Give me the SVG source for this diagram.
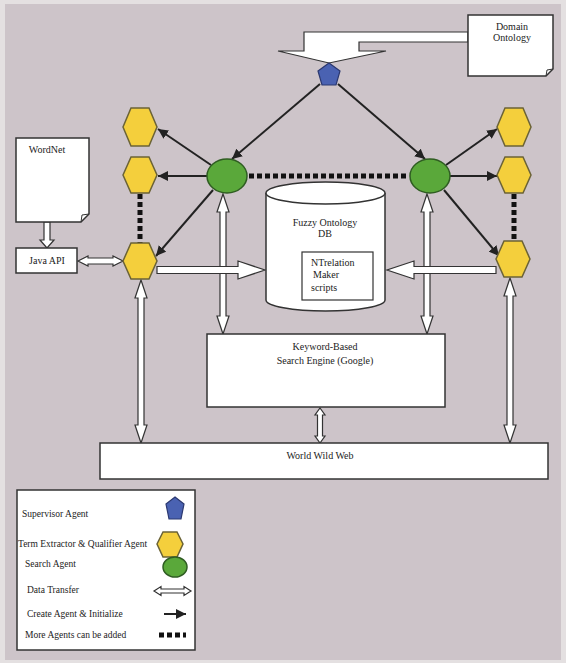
<svg xmlns="http://www.w3.org/2000/svg" width="566" height="663" viewBox="0 0 566 663">
<defs>
<style>
text{font-family:"Liberation Serif","Times New Roman",serif;font-size:10px;fill:#222}
.leg{font-size:9.5px}
.box{fill:#fff;stroke:#333;stroke-width:1.5}
.hex{fill:#f4cf3c;stroke:#6b6336;stroke-width:1.5}
.srch{fill:#5aa83a;stroke:#2f5d22;stroke-width:1.5}
.sup{fill:#4a62b2;stroke:#2b3870;stroke-width:1.2}
.dt{fill:#fff;stroke:#333;stroke-width:1.2;stroke-linejoin:miter}
.cr{stroke:#222;stroke-width:2;fill:none;marker-end:url(#ah)}
.dot{stroke:#111;stroke-width:5;stroke-dasharray:5 3;fill:none}
</style>
<marker id="ah" viewBox="0 0 10 10" refX="10" refY="5" markerWidth="5" markerHeight="5" orient="auto"><path d="M0,0 L10,5 L0,10 z" fill="#222"/></marker>
</defs>
<rect x="0" y="0" width="566" height="663" fill="#e4e0e1"/>
<rect x="5" y="4" width="556" height="656" fill="#cdc4c9"/>

<g id="connectors">
<!-- create arrows -->
<line class="cr" x1="320" y1="84" x2="232" y2="159"/>
<line class="cr" x1="338" y1="84" x2="425" y2="159"/>
<line class="cr" x1="211" y1="165" x2="158" y2="129"/>
<line class="cr" x1="207" y1="176" x2="158" y2="176"/>
<line class="cr" x1="213" y1="190" x2="156" y2="256"/>
<line class="cr" x1="446" y1="165" x2="497" y2="129"/>
<line class="cr" x1="450" y1="176" x2="497" y2="176"/>
<line class="cr" x1="444" y1="190" x2="499" y2="256"/>
<!-- more agents dotted -->
<line class="dot" x1="249" y1="176" x2="409" y2="176"/>
<line class="dot" x1="140" y1="194" x2="140" y2="243"/>
<line class="dot" x1="514" y1="194" x2="514" y2="241"/>
<!-- domain ontology bent arrow -->
<polygon class="dt" points="468,32 304,32 304,51 278,51 329,63 386,51 359,51 359,42 468,42"/>
<!-- data transfer arrows -->
<polygon class="dt" points="223,194 229,212 226,212 226,316 229,316 223,334 217,316 220,316 220,212 217,212"/>
<polygon class="dt" points="427,194 433,212 430,212 430,316 433,316 427,334 421,316 424,316 424,212 421,212"/>
<polygon class="dt" points="141,280 147,298 144,298 144,425 147,425 141,443 135,425 138,425 138,298 135,298"/>
<polygon class="dt" points="510,278 516,296 513,296 513,425 516,425 510,443 504,425 507,425 507,296 504,296"/>
<polygon class="dt" points="320,408 325,415 322.5,415 322.5,436 325,436 320,443 315,436 317.5,436 317.5,415 315,415"/>
<polygon class="dt" points="78,261 88,256 88,258 113,258 113,256 123,261 113,266 113,264 88,264 88,266"/>
<polygon class="dt" points="44,222 50,222 50,240 54,240 47,248 40,240 44,240"/>
<polygon class="dt" points="157,266.5 238,266.5 238,261 265,270 238,279 238,273.5 157,273.5"/>
<polygon class="dt" points="496,266.5 414,266.5 414,261 387,270 414,279 414,273.5 496,273.5"/>
</g>

<g id="domain-ontology">
<path class="box" d="M468,15 H553 V69 L546,76 H468 Z"/>
<path d="M546,76 L547,70 L553,69" fill="none" stroke="#333" stroke-width="1"/>
<text x="512" y="30" text-anchor="middle">Domain</text>
<text x="512" y="41" text-anchor="middle">Ontology</text>
</g>

<g id="supervisor">
<polygon class="sup" points="329,63 340,71 336,85 322,85 318,71"/>
</g>

<g id="search-left"><ellipse class="srch" cx="227" cy="176" rx="20" ry="17"/></g>
<g id="search-right"><ellipse class="srch" cx="430" cy="176" rx="20" ry="17"/></g>

<g id="hex-l1"><polygon class="hex" points="123,127 131,108 149,108 157,127 149,146 131,146"/></g>
<g id="hex-l2"><polygon class="hex" points="123,175 131,157 149,157 157,175 149,193 131,193"/></g>
<g id="hex-l3"><polygon class="hex" points="123,261 131,243 149,243 157,261 149,279 131,279"/></g>
<g id="hex-r1"><polygon class="hex" points="497,127 505,108 523,108 531,127 523,146 505,146"/></g>
<g id="hex-r2"><polygon class="hex" points="497,175 505,157 523,157 531,175 523,193 505,193"/></g>
<g id="hex-r3"><polygon class="hex" points="496,259 504,241 522,241 530,259 522,277 504,277"/></g>

<g id="wordnet">
<path class="box" d="M16,138 H89 V214 L81,222 H16 Z"/>
<path d="M81,222 L82,215 L89,214" fill="none" stroke="#333" stroke-width="1"/>
<text x="47" y="153" text-anchor="middle">WordNet</text>
</g>

<g id="java-api">
<rect class="box" x="16" y="248" width="61" height="25"/>
<text x="47" y="264" text-anchor="middle">Java API</text>
</g>

<g id="fuzzy-db">
<path class="box" d="M266,193 V300 A59.5,11 0 0 0 385,300 V193"/>
<ellipse class="box" cx="325.5" cy="193" rx="59.5" ry="11"/>
<text x="325" y="226" text-anchor="middle">Fuzzy Ontology</text>
<text x="325" y="237" text-anchor="middle">DB</text>
<rect fill="#fff" stroke="#333" stroke-width="1.2" x="302" y="252" width="71" height="48"/>
<text x="311" y="266">NTrelation</text>
<text x="313" y="278">Maker</text>
<text x="311" y="291">scripts</text>
</g>

<g id="search-engine">
<rect class="box" x="207" y="334" width="238" height="73"/>
<text x="325" y="350" text-anchor="middle">Keyword-Based</text>
<text x="325" y="364" text-anchor="middle">Search Engine (Google)</text>
</g>

<g id="www">
<rect class="box" x="100" y="443" width="448" height="36"/>
<text x="320" y="459" text-anchor="middle">World Wild Web</text>
</g>

<g id="legend">
<rect class="box" x="17" y="490" width="178" height="160"/>
<text class="leg" x="22" y="517">Supervisor Agent</text>
<polygon class="sup" points="175,497 184,504 181,519 169,519 166,504"/>
<text class="leg" x="18" y="547">Term Extractor &amp; Qualifier Agent</text>
<polygon class="hex" points="157,544 163,532 177,532 183,544 177,557 163,557"/>
<text class="leg" x="25" y="567">Search Agent</text>
<ellipse class="srch" cx="175" cy="567" rx="12" ry="10"/>
<text class="leg" x="27" y="593">Data Transfer</text>
<polygon class="dt" points="154,591 161,586.5 161,589 184,589 184,586.5 191,591 184,595.5 184,593 161,593 161,595.5"/>
<text class="leg" x="27" y="617">Create Agent &amp; Initialize</text>
<line class="cr" x1="164" y1="614" x2="186" y2="614"/>
<text class="leg" x="25" y="638">More Agents can be added</text>
<line class="dot" x1="159" y1="635" x2="186" y2="635"/>
</g>
</svg>
